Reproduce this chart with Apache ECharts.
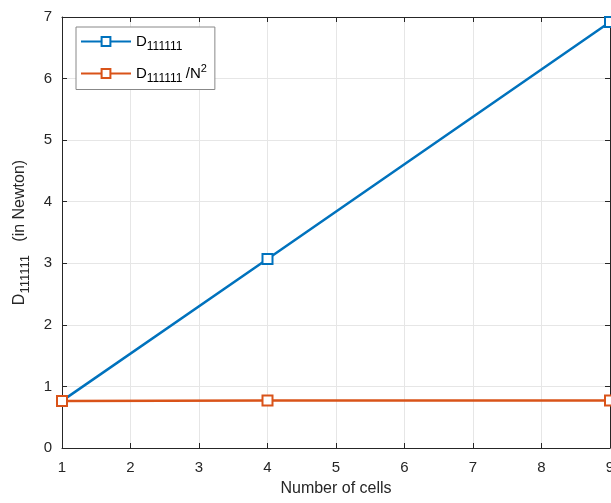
<!DOCTYPE html>
<html>
<head>
<meta charset="utf-8">
<script src="https://cdn.jsdelivr.net/npm/echarts@6/dist/echarts.min.js"></script>
<style>
  html, body { margin: 0; padding: 0; background: #fff; }
  #chart { width: 611px; height: 503px; }
</style>
</head>
<body>
<div id="chart"></div>
<script>
// data
const cells = [1, 4, 9]
const dValues = [0.765, 3.07, 6.92]
const dPerN2 = [0.765, 0.77, 0.77]
const xTicks = [1, 2, 3, 4, 5, 6, 7, 8, 9]
const yTicks = [0, 1, 2, 3, 4, 5, 6, 7]

const FONT = 'Liberation Sans'
const BLUE = '#0072BD'
const ORANGE = '#D95319'

const chart = echarts.init(document.getElementById('chart'))

// 富文本：下标 / 上标
const rich = {
  n: { fontFamily: FONT, fontSize: 15, color: '#000' },
  s: { fontFamily: FONT, fontSize: 12, color: '#000', padding: [10, 0, 0, 0] },
  p: { fontFamily: FONT, fontSize: 11, color: '#000', padding: [0, 0, 9, 0] }
}

function boxAxis(extra) {
  return Object.assign({
    type: 'value',
    axisLine: { show: true, onZero: false, lineStyle: { color: '#262626', width: 1 } },
    axisTick: { show: true, inside: true, length: 5, lineStyle: { color: '#262626' } },
    splitLine: { show: false },
    axisLabel: { show: false }
  }, extra)
}

const option = {
  animation: false,
  backgroundColor: '#fff',
  grid: { left: 62, right: 1, top: 17, bottom: 55, containLabel: false, outerBoundsMode: 'none' },
  legend: {
    orient: 'vertical',
    left: 76,
    top: 27,
    backgroundColor: '#fff',
    borderColor: '#888',
    borderWidth: 1,
    borderRadius: 0,
    padding: [7, 8, 5, 4],
    itemWidth: 50,
    itemHeight: 11,
    itemGap: 11,
    data: ['D111111', 'D111111/N2'],
    formatter: function (name) {
      if (name === 'D111111') return '{n|D}{s|111111}'
      return '{n|D}{s|111111} {n|/N}{p|2}'
    },
    textStyle: { rich: rich, padding: [0, 0, 0, 0] }
  },
  xAxis: [
    {
      type: 'value',
      min: xTicks[0],
      max: xTicks[xTicks.length - 1],
      interval: 1,
      name: 'Number of cells',
      nameLocation: 'middle',
      nameGap: 33,
      nameTextStyle: { fontFamily: FONT, fontSize: 16, color: '#262626' },
      axisLine: { show: true, onZero: false, lineStyle: { color: '#262626' } },
      axisTick: { show: true, inside: true, length: 5, lineStyle: { color: '#262626' } },
      axisLabel: { fontFamily: FONT, fontSize: 15, color: '#262626', margin: 12 },
      splitLine: { show: true, lineStyle: { color: '#e6e6e6', width: 1 } }
    },
    boxAxis({ position: 'top', min: 1, max: 9, interval: 1 })
  ],
  yAxis: [
    {
      type: 'value',
      min: yTicks[0],
      max: yTicks[yTicks.length - 1],
      interval: 1,
      name: '{n|D}{s|111111}{n|   (in Newton)}',
      nameLocation: 'middle',
      nameGap: 30,
      nameRotate: 90,
      nameTextStyle: {
        fontFamily: FONT, fontSize: 16, color: '#262626',
        rich: {
          n: { fontFamily: FONT, fontSize: 16, color: '#262626' },
          s: { fontFamily: FONT, fontSize: 13, color: '#262626', padding: [11, 0, 0, 0] }
        }
      },
      axisLine: { show: true, onZero: false, lineStyle: { color: '#262626' } },
      axisTick: { show: true, inside: true, length: 5, lineStyle: { color: '#262626' } },
      axisLabel: { fontFamily: FONT, fontSize: 15, color: '#262626', margin: 10 },
      splitLine: { show: true, lineStyle: { color: '#e6e6e6', width: 1 } }
    },
    boxAxis({ position: 'right', min: 0, max: 7, interval: 1 })
  ],
  series: [
    {
      name: 'D111111',
      type: 'line',
      data: cells.map((c, i) => [c, dValues[i]]),
      color: BLUE,
      lineStyle: { width: 2.5, color: BLUE },
      symbol: 'rect',
      symbolSize: 10,
      itemStyle: { color: '#fff', borderColor: BLUE, borderWidth: 2 },
      z: 3
    },
    {
      name: 'D111111/N2',
      type: 'line',
      data: cells.map((c, i) => [c, dPerN2[i]]),
      color: ORANGE,
      lineStyle: { width: 2.5, color: ORANGE },
      symbol: 'rect',
      symbolSize: 10,
      itemStyle: { color: '#fff', borderColor: ORANGE, borderWidth: 2 },
      z: 4
    }
  ]
}

chart.setOption(option)
</script>
</body>
</html>
